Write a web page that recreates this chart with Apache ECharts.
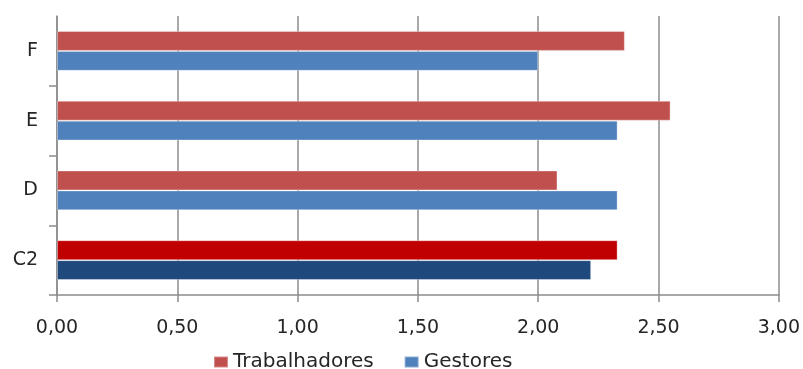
<!DOCTYPE html>
<html>
<head>
<meta charset="utf-8">
<script src="https://cdn.jsdelivr.net/npm/echarts@6/dist/echarts.min.js"></script>
<style>
  html, body { margin: 0; padding: 0; background: #fff; }
  #chart { width: 803px; height: 369px; }
</style>
</head>
<body>
<div id="chart"></div>
<script>
// Categories, bottom to top on the vertical axis
const categories = ['C2', 'D', 'E', 'F'];
// Scores per group
const trabalhadores = [2.33, 2.08, 2.55, 2.36];
const gestores = [2.22, 2.33, 2.33, 2.00];
// Colours: the C2 row is highlighted in darker tones
const trabalhadoresColors = ['#C00000', '#C0504D', '#C0504D', '#C0504D'];
const gestoresColors = ['#1F497D', '#4F81BD', '#4F81BD', '#4F81BD'];

const fontFamily = '"DejaVu Sans", sans-serif';
const textColor = '#262626';
const axisColor = '#8c8c8c';

function coloured(values, colours) {
  return values.map((v, i) => ({ value: v, itemStyle: { color: colours[i] } }));
}

// Boundaries between category bands, used only for the left tick marks
// (one per boundary, the topmost one left out)
const bandEdges = ['', '', '', '', ''];

const chart = echarts.init(document.getElementById('chart'), null, { renderer: 'canvas' });
chart.setOption({
  animation: false,
  backgroundColor: '#ffffff',
  grid: { left: 57, right: 23, top: 16, bottom: 74, containLabel: false },
  legend: {
    data: [
      { name: 'Trabalhadores', itemStyle: { color: '#C0504D' } },
      { name: 'Gestores', itemStyle: { color: '#4F81BD' } }
    ],
    top: 352,
    left: 213,
    padding: 0,
    itemWidth: 14,
    itemHeight: 11,
    itemGap: 30,
    icon: 'rect',
    textStyle: { fontFamily, fontSize: 20, color: textColor }
  },
  xAxis: {
    type: 'value',
    min: 0,
    max: 3,
    interval: 0.5,
    axisLine: { show: true, lineStyle: { color: axisColor, width: 1.5 } },
    axisTick: { show: true, length: 7, lineStyle: { color: axisColor, width: 1.5 } },
    splitLine: { show: true, lineStyle: { color: axisColor, width: 1.5 } },
    axisLabel: {
      margin: 24,
      fontFamily,
      fontSize: 19,
      color: textColor,
      formatter: v => v.toFixed(2).replace('.', ',')
    }
  },
  yAxis: [
    {
      type: 'category',
      data: categories,
      axisLine: { show: true, lineStyle: { color: axisColor, width: 1.5 } },
      axisTick: { show: false },
      axisLabel: { margin: 19, fontFamily, fontSize: 19, color: textColor }
    },
    {
      type: 'category',
      data: bandEdges,
      position: 'left',
      boundaryGap: false,
      axisLine: { show: false },
      axisLabel: { show: false },
      axisTick: {
        show: true,
        length: 8,
        interval: (index) => index < bandEdges.length - 1,
        lineStyle: { color: axisColor, width: 1.5 }
      },
      splitLine: { show: false }
    }
  ],
  series: [
    {
      name: 'Trabalhadores',
      type: 'bar',
      yAxisIndex: 0,
      data: coloured(trabalhadores, trabalhadoresColors),
      itemStyle: { color: '#C0504D', borderColor: 'rgba(255,255,255,0.35)', borderWidth: 1 },
      barGap: '0%',
      barCategoryGap: '43%'
    },
    {
      name: 'Gestores',
      type: 'bar',
      yAxisIndex: 0,
      data: coloured(gestores, gestoresColors),
      itemStyle: { color: '#4F81BD', borderColor: 'rgba(255,255,255,0.35)', borderWidth: 1 },
      barGap: '0%',
      barCategoryGap: '43%'
    }
  ]
});
</script>
</body>
</html>
